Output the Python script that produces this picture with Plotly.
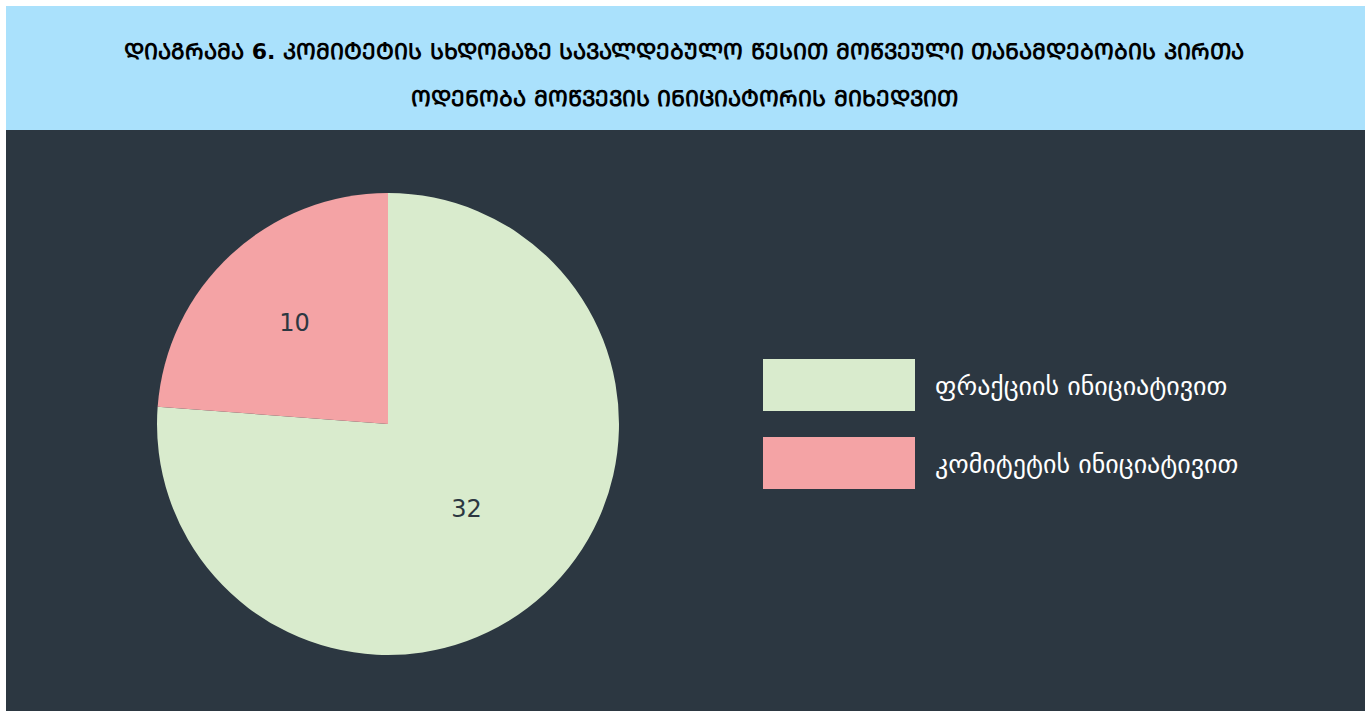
import plotly.graph_objects as go

W, H = 1365, 711

labels = ["ფრაქციის ინიციატივით", "კომიტეტის ინიციატივით"]
values = [32, 10]
colors = ["#d9ebcd", "#f4a3a5"]
title_lines = [
    "ᲓᲘᲐᲒᲠᲐᲛᲐ 6. ᲙᲝᲛᲘᲢᲔᲢᲘᲡ ᲡᲮᲓᲝᲛᲐᲖᲔ ᲡᲐᲕᲐᲚᲓᲔᲑᲣᲚᲝ ᲬᲔᲡᲘᲗ ᲛᲝᲬᲕᲔᲣᲚᲘ ᲗᲐᲜᲐᲛᲓᲔᲑᲝᲑᲘᲡ ᲞᲘᲠᲗᲐ",
    "ᲝᲓᲔᲜᲝᲑᲐ ᲛᲝᲬᲕᲔᲕᲘᲡ ᲘᲜᲘᲪᲘᲐᲢᲝᲠᲘᲡ ᲛᲘᲮᲔᲓᲕᲘᲗ",
]

DARK = "#2c3741"
BLUE = "#aae1fc"

def px_x(x):
    return x / W

def px_y(y):
    return 1 - y / H

fig = go.Figure()
fig.add_trace(go.Pie(
    labels=labels,
    values=values,
    marker=dict(colors=colors, line=dict(width=0)),
    sort=False,
    direction="clockwise",
    rotation=0,
    textinfo="value",
    textposition="inside",
    insidetextorientation="horizontal",
    textfont=dict(family="DejaVu Sans", size=24, color=DARK),
    showlegend=False,
    hoverinfo="label+value",
    domain=dict(x=[px_x(388 - 231), px_x(388 + 231)], y=[px_y(655), px_y(193)]),
))

shapes = [
    dict(type="rect", xref="paper", yref="paper", x0=px_x(6), x1=1, y0=px_y(130), y1=px_y(6),
         fillcolor=BLUE, line=dict(width=0), layer="below"),
    dict(type="rect", xref="paper", yref="paper", x0=px_x(6), x1=1, y0=0, y1=px_y(130),
         fillcolor=DARK, line=dict(width=0), layer="below"),
]
annotations = []
for i, (lab, col) in enumerate(zip(labels, colors)):
    top = 359 + i * 78
    shapes.append(dict(type="rect", xref="paper", yref="paper",
                       x0=px_x(763), x1=px_x(915), y0=px_y(top + 52), y1=px_y(top),
                       fillcolor=col, line=dict(width=0)))
    annotations.append(dict(text=lab, xref="paper", yref="paper", x=px_x(933), y=px_y(top + 27),
                            xanchor="left", yanchor="middle", showarrow=False,
                            font=dict(family="DejaVu Sans", size=26, color="#ffffff")))

for i, line in enumerate(title_lines):
    annotations.append(dict(text="<b>" + line + "</b>", xref="paper", yref="paper",
                            x=px_x(684), y=px_y(51 + i * 47), xanchor="center", yanchor="middle",
                            showarrow=False, align="center",
                            font=dict(family="DejaVu Sans", size=22, color="#000000")))

fig.update_layout(
    width=W, height=H,
    margin=dict(l=0, r=0, t=0, b=0),
    paper_bgcolor="#ffffff",
    plot_bgcolor="#ffffff",
    shapes=shapes,
    annotations=annotations,
)

fig.write_html("out.html", config={"displayModeBar": False},
               post_script="document.body.style.margin='0';")
